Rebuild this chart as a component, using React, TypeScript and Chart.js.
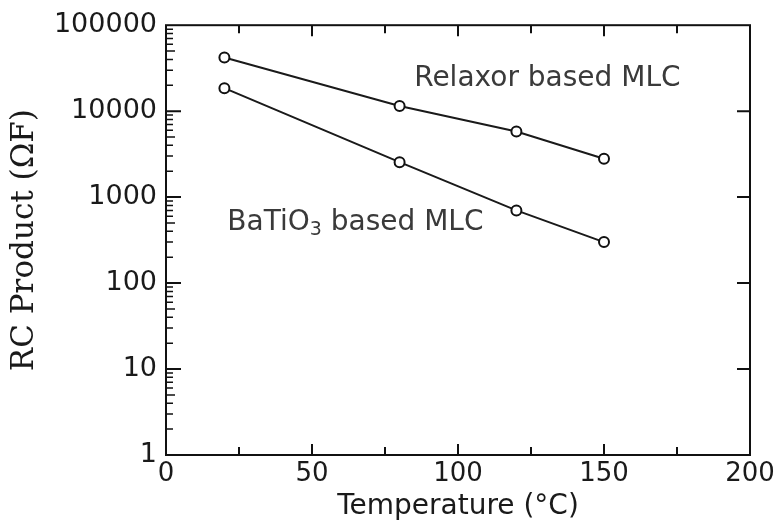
import React, { useEffect, useRef } from "react";
import { Chart, registerables } from "chart.js";

Chart.register(...registerables);

// ---- data ----
const temperatures = [20, 80, 120, 150];
const relaxorRC = [42000, 11500, 5800, 2800];
const batio3RC = [18500, 2550, 700, 300];

const xLabelTicks = [0, 50, 100, 150, 200];
const xTickMarks = [25, 50, 75, 100, 125, 150, 175];
const xMajorMarks = [50, 100, 150];
const yDecades = [1, 10, 100, 1000, 10000, 100000];
const yMinorMultipliers = [2, 3, 4, 5, 6, 7, 8, 9];

const relaxorText = "Relaxor based MLC";
const batioTextParts = ["BaTiO", "3", " based MLC"];
const relaxorTextAt = { x: 85, y: 24000 };
const batioTextAt = { x: 21, y: 510 };

const xTitle = "Temperature (°C)";
const yTitle = "RC Product (ΩF)";

const SANS = '"DejaVu Sans", sans-serif';

const framePlugin = {
  id: "frame",
  afterDatasetsDraw(chart: any) {
    const { ctx, chartArea: a, scales } = chart;
    const xs = scales.x;
    const ys = scales.y;
    ctx.save();
    ctx.strokeStyle = "#111";
    ctx.lineWidth = 2;
    ctx.strokeRect(a.left, a.top, a.right - a.left, a.bottom - a.top);

    ctx.beginPath();
    for (const v of xTickMarks) {
      const px = xs.getPixelForValue(v);
      const len = xMajorMarks.includes(v) ? 11 : 8;
      ctx.moveTo(px, a.bottom);
      ctx.lineTo(px, a.bottom - len);
      ctx.moveTo(px, a.top);
      ctx.lineTo(px, a.top + len);
    }
    for (let i = 0; i < yDecades.length; i++) {
      const d = yDecades[i];
      const py = ys.getPixelForValue(d);
      if (i > 0 && i < yDecades.length - 1) {
        ctx.moveTo(a.left, py);
        ctx.lineTo(a.left + 15, py);
        ctx.moveTo(a.right, py);
        ctx.lineTo(a.right - 13, py);
      }
    }
    ctx.stroke();

    ctx.lineWidth = 1.5;
    ctx.beginPath();
    for (let i = 0; i < yDecades.length - 1; i++) {
      const d = yDecades[i];
      for (const m of yMinorMultipliers) {
        const pm = ys.getPixelForValue(d * m);
        ctx.moveTo(a.left, pm);
        ctx.lineTo(a.left + (m === 5 ? 9 : 7), pm);
      }
    }
    ctx.stroke();

    // annotations
    ctx.fillStyle = "#3a3a3a";
    ctx.textBaseline = "middle";
    ctx.textAlign = "left";
    ctx.font = `28px ${SANS}`;
    ctx.fillText(
      relaxorText,
      xs.getPixelForValue(relaxorTextAt.x),
      ys.getPixelForValue(relaxorTextAt.y)
    );
    let bx = xs.getPixelForValue(batioTextAt.x);
    const by = ys.getPixelForValue(batioTextAt.y);
    ctx.fillText(batioTextParts[0], bx, by);
    bx += ctx.measureText(batioTextParts[0]).width;
    ctx.font = `19px ${SANS}`;
    ctx.fillText(batioTextParts[1], bx, by + 8);
    bx += ctx.measureText(batioTextParts[1]).width;
    ctx.font = `28px ${SANS}`;
    ctx.fillText(batioTextParts[2], bx, by);
    ctx.restore();
  },
};

export default function App() {
  const ref = useRef<HTMLCanvasElement | null>(null);

  useEffect(() => {
    if (!ref.current) return;
    const pointStyle = {
      pointRadius: 5,
      pointBorderWidth: 2,
      pointBackgroundColor: "#fff",
      pointBorderColor: "#111",
      borderColor: "#1a1a1a",
      borderWidth: 2,
      fill: false,
      tension: 0,
    };
    const chart = new Chart(ref.current, {
      type: "line",
      data: {
        datasets: [
          {
            label: relaxorText,
            data: temperatures.map((t, i) => ({ x: t, y: relaxorRC[i] })),
            ...pointStyle,
          },
          {
            label: batioTextParts.join(""),
            data: temperatures.map((t, i) => ({ x: t, y: batio3RC[i] })),
            ...pointStyle,
          },
        ],
      },
      options: {
        animation: false,
        responsive: false,
        layout: { padding: { left: 0, right: 34, top: 21, bottom: 0 } },
        plugins: {
          legend: { display: false },
          tooltip: { enabled: false },
        },
        scales: {
          x: {
            type: "linear",
            min: 0,
            max: 200,
            grid: { display: false, drawTicks: false },
            border: { display: false },
            afterBuildTicks: (s: any) => {
              s.ticks = xLabelTicks.map((v) => ({ value: v }));
            },
            afterFit: (s: any) => {
              s.height = 72;
            },
            ticks: {
              autoSkip: false,
              maxRotation: 0,
              padding: 4,
              color: "#1a1a1a",
              font: { family: SANS, size: 26 },
              callback: (v: any) => String(v),
            },
            title: {
              display: true,
              text: xTitle,
              color: "#1a1a1a",
              font: { family: SANS, size: 28 },
              padding: { top: 0, bottom: 3 },
            },
          },
          y: {
            type: "logarithmic",
            min: 1,
            max: 100000,
            grid: { display: false, drawTicks: false },
            border: { display: false },
            afterBuildTicks: (s: any) => {
              s.ticks = yDecades.map((v) => ({ value: v }));
            },
            afterFit: (s: any) => {
              s.width = 166;
            },
            ticks: {
              autoSkip: false,
              padding: 9,
              color: "#1a1a1a",
              font: { family: SANS, size: 27 },
              callback: (v: any) => String(v),
            },
            title: {
              display: true,
              text: yTitle,
              color: "#1a1a1a",
              font: { family: '"DejaVu Serif", serif', size: 31 },
              padding: { top: 6, bottom: 0 },
            },
          },
        },
      },
      plugins: [framePlugin],
    });
    return () => chart.destroy();
  }, []);

  return (
    <div style={{ position: "fixed", left: 0, top: 0, width: 784, height: 527, background: "#fff" }}>
      <canvas ref={ref} width={784} height={527} style={{ display: "block" }} />
    </div>
  );
}
